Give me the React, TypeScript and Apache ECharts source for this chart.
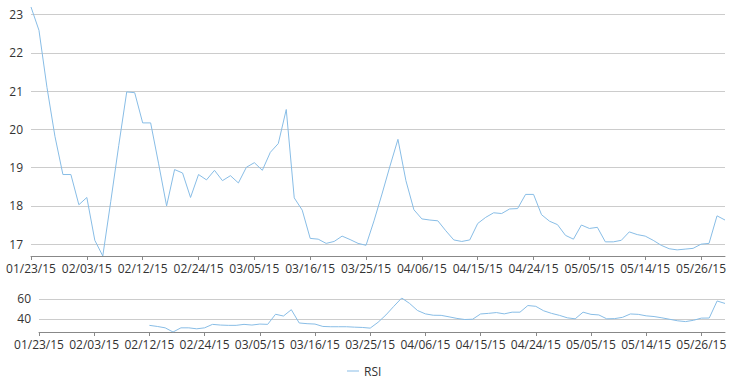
import React, { useEffect, useRef } from "react";
import * as echarts from "echarts";

const dates: string[] = [
  "01/23/15", "01/26/15", "01/27/15", "01/28/15", "01/29/15", "01/30/15",
  "02/02/15", "02/03/15", "02/04/15", "02/05/15", "02/06/15",
  "02/09/15", "02/10/15", "02/11/15", "02/12/15", "02/13/15",
  "02/17/15", "02/18/15", "02/19/15", "02/20/15",
  "02/23/15", "02/24/15", "02/25/15", "02/26/15", "02/27/15",
  "03/02/15", "03/03/15", "03/04/15", "03/05/15", "03/06/15",
  "03/09/15", "03/10/15", "03/11/15", "03/12/15", "03/13/15",
  "03/16/15", "03/17/15", "03/18/15", "03/19/15", "03/20/15",
  "03/23/15", "03/24/15", "03/25/15", "03/26/15", "03/27/15",
  "03/30/15", "03/31/15", "04/01/15", "04/02/15",
  "04/06/15", "04/07/15", "04/08/15", "04/09/15", "04/10/15",
  "04/13/15", "04/14/15", "04/15/15", "04/16/15", "04/17/15",
  "04/20/15", "04/21/15", "04/22/15", "04/23/15", "04/24/15",
  "04/27/15", "04/28/15", "04/29/15", "04/30/15", "05/01/15",
  "05/04/15", "05/05/15", "05/06/15", "05/07/15", "05/08/15",
  "05/11/15", "05/12/15", "05/13/15", "05/14/15", "05/15/15",
  "05/18/15", "05/19/15", "05/20/15", "05/21/15", "05/22/15",
  "05/26/15", "05/27/15", "05/28/15", "05/29/15",
];

const prices: number[] = [
  23.2, 22.59, 21.1, 19.82, 18.82, 18.82, 18.03, 18.22, 17.1, 16.69,
  18.12, 19.58, 20.98, 20.96, 20.17, 20.17, 19.1, 18.0, 18.95, 18.86,
  18.22, 18.82, 18.68, 18.93, 18.66, 18.79, 18.6, 19.01, 19.13, 18.93,
  19.4, 19.63, 20.52, 18.21, 17.89, 17.15, 17.13, 17.02, 17.07, 17.21,
  17.12, 17.02, 16.97, 17.61, 18.31, 19.04, 19.74, 18.66, 17.9, 17.66,
  17.63, 17.61, 17.35, 17.11, 17.07, 17.11, 17.54, 17.7, 17.82, 17.8,
  17.92, 17.93, 18.3, 18.3, 17.77, 17.6, 17.51, 17.23, 17.13, 17.5,
  17.41, 17.44, 17.06, 17.06, 17.1, 17.32, 17.25, 17.21, 17.1, 16.97,
  16.88, 16.85, 16.87, 16.89, 17.0, 17.02, 17.74, 17.63,
];

const rsi: (number | null)[] = [
  null, null, null, null, null, null, null, null, null, null, null, null, null, null,
  33.4, 32.3, 30.9, 26.7, 30.9, 30.9, 29.9, 30.9, 34.4, 33.7,
  33.4, 33.4, 34.4, 33.7, 34.7, 34.4, 44.6, 42.8, 49.2, 35.8,
  35.1, 34.7, 32.3, 32.0, 32.0, 32.0, 31.6, 31.3, 30.6, 36.5,
  43.9, 52.6, 61.0, 55.5, 48.4, 45.0, 43.6, 43.5, 42.0, 40.4,
  39.3, 39.6, 44.9, 45.5, 46.3, 45.0, 46.7, 46.7, 53.4, 52.6,
  48.1, 45.5, 43.5, 41.0, 40.0, 46.7, 44.5, 43.9, 40.0, 40.2,
  41.5, 44.9, 44.5, 43.0, 42.3, 41.0, 39.5, 38.0, 37.2, 38.5,
  40.7, 40.8, 58.0, 55.5,
];

const FONT = "'Segoe UI', 'Open Sans', 'Noto Sans', sans-serif";
const LINE_COLOR = "#88bde6";
const AXIS_COLOR = "#888888";
const GRID_COLOR = "#cccccc";
const TEXT_COLOR = "#333333";

export default function App() {
  const ref = useRef<HTMLDivElement>(null);

  useEffect(() => {
    if (!ref.current) return;
    const chart = echarts.init(ref.current, undefined, { renderer: "svg" });

    const xAxisBase = (gridIndex: number) => ({
      gridIndex,
      type: "category" as const,
      data: dates,
      boundaryGap: false,
      axisLine: { show: true, lineStyle: { color: AXIS_COLOR, width: 1 } },
      axisTick: { show: true, interval: 6, length: 4, lineStyle: { color: AXIS_COLOR } },
      axisLabel: { interval: 6, margin: 6, color: TEXT_COLOR, fontSize: 12, fontFamily: FONT },
      splitLine: { show: false },
    });

    const yAxisBase = (gridIndex: number, step: number) => ({
      gridIndex,
      type: "value" as const,
      min: "dataMin",
      max: "dataMax",
      minInterval: step,
      maxInterval: step,
      axisLine: { show: false },
      axisTick: { show: false },
      axisLabel: {
        showMinLabel: false,
        showMaxLabel: false,
        color: TEXT_COLOR,
        fontSize: 12,
        fontFamily: FONT,
        margin: 8,
      },
      splitLine: {
        show: true,
        showMinLine: false,
        showMaxLine: false,
        lineStyle: { color: GRID_COLOR, width: 1 },
      },
    });

    chart.setOption({
      animation: false,
      backgroundColor: "#ffffff",
      textStyle: { fontFamily: FONT },
      grid: [
        { left: 31, top: 7, width: 694, height: 249 },
        { left: 39, top: 298, width: 686, height: 34 },
      ],
      xAxis: [xAxisBase(0), xAxisBase(1)],
      yAxis: [yAxisBase(0, 1), yAxisBase(1, 20)],
      legend: {
        data: [{ name: "RSI", icon: "rect" }],
        left: 342,
        top: 360,
        itemWidth: 12,
        itemHeight: 1,
        itemGap: 10,
        textStyle: { color: TEXT_COLOR, fontSize: 12, fontFamily: FONT },
      },
      series: [
        {
          name: "Price",
          type: "line",
          xAxisIndex: 0,
          yAxisIndex: 0,
          data: prices,
          symbol: "none",
          lineStyle: { color: LINE_COLOR, width: 1 },
          itemStyle: { color: LINE_COLOR },
        },
        {
          name: "RSI",
          type: "line",
          xAxisIndex: 1,
          yAxisIndex: 1,
          data: rsi,
          symbol: "none",
          lineStyle: { color: LINE_COLOR, width: 1 },
          itemStyle: { color: LINE_COLOR },
        },
      ],
    });

    return () => chart.dispose();
  }, []);

  return (
    <div
      ref={ref}
      style={{ position: "fixed", left: 0, top: 0, width: 733, height: 380 }}
    />
  );
}
